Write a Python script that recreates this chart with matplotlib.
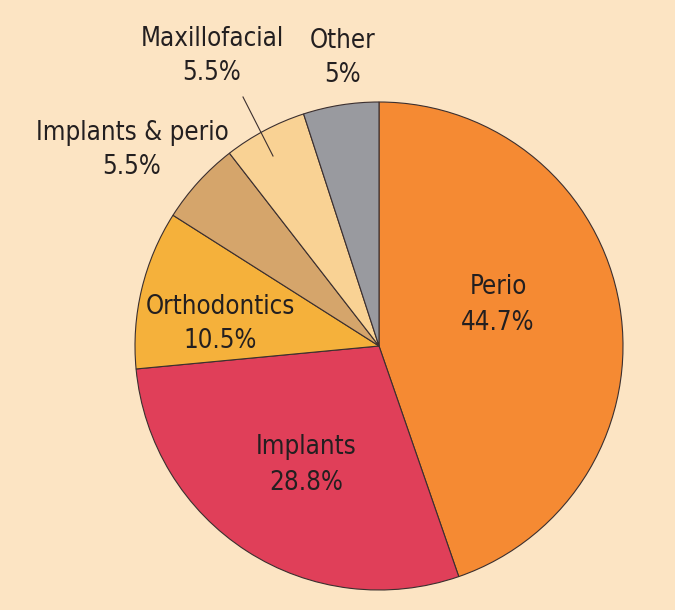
import matplotlib
matplotlib.use("Agg")
import matplotlib.pyplot as plt
from matplotlib import font_manager as fm

categories = ["Perio", "Implants", "Orthodontics", "Implants & perio", "Maxillofacial", "Other"]
values = [44.7, 28.8, 10.5, 5.5, 5.5, 5.0]
pct_labels = ["44.7%", "28.8%", "10.5%", "5.5%", "5.5%", "5%"]
colors = ["#F58A33", "#E03F59", "#F5B13B", "#D5A56B", "#F9D294", "#999A9F"]

bg = "#FCE4C3"
W, H = 675, 610
fig = plt.figure(figsize=(W / 100, H / 100), dpi=100, facecolor=bg)
cx, cy, r = 379, 346, 244
ax = fig.add_axes([(cx - r) / W, (H - cy - r) / H, 2 * r / W, 2 * r / H])
ax.set_facecolor(bg)
ax.pie(values, colors=colors, startangle=90, counterclock=False, radius=1,
       wedgeprops=dict(edgecolor="#3b2f2f", linewidth=0.8))
ax.set_xlim(-1, 1)
ax.set_ylim(-1, 1)
ax.set_aspect("equal")
ax.axis("off")

cond = None
for f in fm.fontManager.ttflist:
    if "Condensed" in f.fname and "DejaVuSans" in f.fname and "Bold" not in f.fname and "Oblique" not in f.fname:
        cond = f.fname
        break
if cond:
    fp = fm.FontProperties(fname=cond, size=18.5)
else:
    fp = fm.FontProperties(family="DejaVu Sans", size=17)

txt = "#231f20"

def px2d(px, py):
    return (px - cx) / r, (cy - py) / r

label_pos = {
    "Perio": (498, 305),
    "Implants": (306, 465),
    "Orthodontics": (220, 324),
    "Implants & perio": (132, 150),
    "Maxillofacial": (212, 56),
    "Other": (343, 58),
}
for name, pct in zip(categories, pct_labels):
    px, py = label_pos[name]
    x, y = px2d(px, py)
    ax.text(x, y, f"{name}\n{pct}", ha="center", va="center", fontproperties=fp,
            color=txt, linespacing=1.45, clip_on=False)

x0, y0 = px2d(243, 97)
x1, y1 = px2d(273, 156)
ax.plot([x0, x1], [y0, y1], color="#3b2f2f", lw=0.8, clip_on=False)

fig.savefig("out.png", dpi=100, facecolor=bg)
